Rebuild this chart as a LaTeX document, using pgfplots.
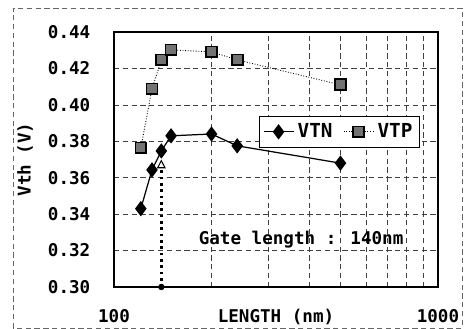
\documentclass[border=0pt]{standalone}
\usepackage{fontspec}
\setmainfont{DejaVu Sans Mono}
\usepackage{pgfplots}
\pgfplotsset{compat=1.18}
\usetikzlibrary{arrows.meta}
\begin{document}
\begin{tikzpicture}
\useasboundingbox (0,0) rectangle (9.28cm,6.58cm);
\draw[black!60, densely dashed, line width=0.5pt] (0.26cm,0.02cm) rectangle (9.24cm,6.42cm);
\begin{axis}[
  at={(2.28cm,0.84cm)}, anchor=south west,
  scale only axis, width=6.48cm, height=5.1cm,
  xmode=log, xmin=100, xmax=1000, ymin=0.30, ymax=0.44,
  xtick={100,1000}, xticklabels={100,1000},
  minor xtick={200,300,400,500,600,700,800,900},
  ytick={0.30,0.32,0.34,0.36,0.38,0.40,0.42,0.44},
  yticklabel style={/pgf/number format/fixed, /pgf/number format/fixed zerofill, /pgf/number format/precision=2, xshift=-0.35cm},
  xticklabel style={yshift=-0.33cm},
  /pgf/number format/assume math mode=true,
  major tick length=0pt, minor tick length=0pt,
  tick label style={font=\fontsize{10}{11}\bfseries},
  label style={font=\fontsize{10}{11}\bfseries},
  grid=major, minor x grid style={densely dashed, black!75, line width=0.4pt},
  xminorgrids=true,
  major grid style={densely dashed, black!75, line width=0.4pt},
  axis line style={black, line width=0.6pt},
  xlabel={LENGTH (nm)}, ylabel={Vth (V)},
  xlabel style={yshift=0.52cm},
  ylabel style={yshift=0.06cm},
  legend columns=2,
  legend style={at={(0.4475,0.6706)}, anchor=north west, draw=black, line width=0.5pt,
    font=\fontsize{11}{12}\bfseries, inner xsep=2pt, inner ysep=2pt,
    /tikz/every even column/.append style={column sep=4pt}},
  legend cell align=left,
]
\addplot[black, line width=0.7pt, mark=diamond*, mark size=3.8pt, mark options={solid, fill=black}]
  coordinates {(121,0.343) (131,0.3643) (140,0.3747) (150,0.383) (200,0.384) (240,0.3775) (500,0.368)};
\addlegendentry{VTN}
\addplot[black, line width=0.5pt, densely dotted, mark=square*, mark size=3.1pt, mark options={solid, fill=black!55, draw=black, line width=1pt}]
  coordinates {(121,0.3764) (131,0.4088) (140,0.4247) (150,0.4302) (200,0.4291) (240,0.4247) (500,0.411)};
\addlegendentry{VTP}
\addplot[black, line width=1.6pt, dotted, -{Triangle[open, length=5pt, width=5pt, line width=0.6pt]}, forget plot]
  coordinates {(140,0.300) (140,0.370)};
\addplot[black, only marks, mark=*, mark size=1.6pt, forget plot] coordinates {(140,0.300)};
\node[font=\fontsize{10}{11}\bfseries] at (axis cs:378,0.3258) {Gate length : 140nm};
\end{axis}
\end{tikzpicture}
\end{document}
